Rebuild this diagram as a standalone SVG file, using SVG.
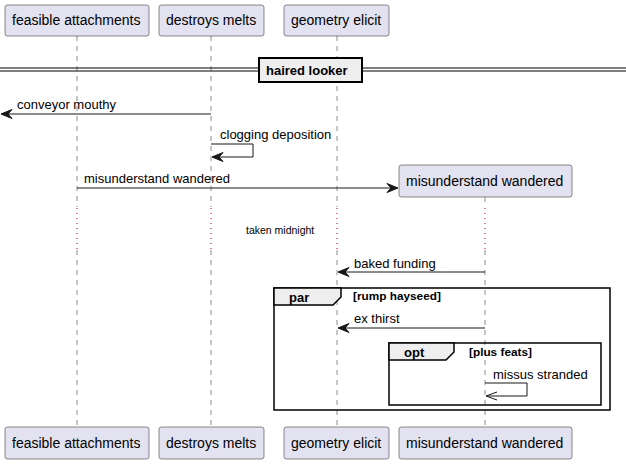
<svg xmlns="http://www.w3.org/2000/svg" width="626" height="464" viewBox="0 0 626 464">
<style>
.p{fill:#E2E2F0;stroke:#181818;stroke-width:0.5}
.pt{font-family:"Liberation Sans",Arial,sans-serif;font-size:14px;fill:#000}
.life{stroke:#181818;stroke-width:0.5;stroke-dasharray:5,5;fill:none}
.delay{stroke:#A80036;stroke-width:1;stroke-dasharray:1,4;fill:none}
.msg{stroke:#181818;stroke-width:1;fill:none}
.mt{font-family:"Liberation Sans",Arial,sans-serif;font-size:13px;fill:#000}
.head{fill:#181818;stroke:#181818;stroke-width:1}
.frame{fill:none;stroke:#000;stroke-width:1.5}
.tab{fill:#EEEEEE;stroke:#000;stroke-width:1.5}
.ft{font-family:"Liberation Sans",Arial,sans-serif;font-size:13px;font-weight:bold;fill:#000}
.fc{font-family:"Liberation Sans",Arial,sans-serif;font-size:11.8px;font-weight:bold;fill:#000}
</style>
<g id="lifelines">
<path class="life" d="M77,36 V207 M77,250 V427"/>
<path class="life" d="M211,36 V207 M211,250 V427"/>
<path class="life" d="M337,36 V207 M337,250 V427"/>
<path class="life" d="M485,197 V207 M485,250 V427"/>
<path class="delay" d="M77,208 V250 M211,208 V250 M337,208 V250 M485,208 V250"/>
</g>
<g id="divider">
<line x1="0" y1="68" x2="626" y2="68" stroke="#000" stroke-width="1"/>
<line x1="0" y1="71" x2="626" y2="71" stroke="#000" stroke-width="1"/>
<rect x="259" y="58" width="103" height="24" fill="#EEEEEE" stroke="#000" stroke-width="2"/>
<text class="ft" x="266" y="75">haired looker</text>
</g>
<g id="p1">
<rect class="p" x="5" y="5" width="144" height="31" rx="2.5"/>
<text class="pt" x="12" y="25">feasible attachments</text>
<rect class="p" x="5" y="427" width="144" height="32" rx="2.5"/>
<text class="pt" x="12" y="448">feasible attachments</text>
</g>
<g id="p2">
<rect class="p" x="159" y="5" width="105" height="31" rx="2.5"/>
<text class="pt" x="166" y="25">destroys melts</text>
<rect class="p" x="159" y="427" width="105" height="32" rx="2.5"/>
<text class="pt" x="166" y="448">destroys melts</text>
</g>
<g id="p3">
<rect class="p" x="284" y="5" width="105" height="31" rx="2.5"/>
<text class="pt" x="291" y="25">geometry elicit</text>
<rect class="p" x="284" y="427" width="105" height="32" rx="2.5"/>
<text class="pt" x="291" y="448">geometry elicit</text>
</g>
<g id="p4">
<rect class="p" x="399" y="165" width="173" height="32" rx="2.5"/>
<text class="pt" x="406" y="186">misunderstand wandered</text>
<rect class="p" x="399" y="427" width="173" height="32" rx="2.5"/>
<text class="pt" x="406" y="448">misunderstand wandered</text>
</g>
<g id="fragments">
<rect class="frame" x="274" y="288" width="336" height="122"/>
<path class="tab" d="M274,288 H341 V297 L333,305 H274 Z"/>
<text class="ft" x="289" y="302">par</text>
<text class="fc" x="353" y="300">[rump hayseed]</text>
<rect class="frame" x="389" y="343" width="212" height="62"/>
<path class="tab" d="M389,343 H454 V352 L446,360 H389 Z"/>
<text class="ft" x="404" y="357">opt</text>
<text class="fc" x="469" y="356">[plus feats]</text>
</g>
<g id="connectors">
<line class="msg" x1="211" y1="114" x2="2" y2="114"/>
<polygon class="head" points="1,114 12,109.5 8,114 12,118.5"/>
<text class="mt" x="17" y="109">conveyor mouthy</text>

<polyline class="msg" points="211,144 253,144 253,157 213,157"/>
<polygon class="head" points="212,157 223,152.5 219,157 223,161.5"/>
<text class="mt" x="220" y="139">clogging deposition</text>

<line class="msg" x1="77" y1="188" x2="396" y2="188"/>
<polygon class="head" points="398,188 387,183.5 391,188 387,192.5"/>
<text class="mt" x="84" y="183">misunderstand wandered</text>

<text x="246" y="234" font-family="Liberation Sans,Arial,sans-serif" font-size="10.5px" fill="#000">taken midnight</text>

<line class="msg" x1="485" y1="272" x2="340" y2="272"/>
<polygon class="head" points="338,272 349,267.5 345,272 349,276.5"/>
<text class="mt" x="354" y="268">baked funding</text>

<line class="msg" x1="485" y1="328" x2="340" y2="328"/>
<polygon class="head" points="338,328 349,323.5 345,328 349,332.5"/>
<text class="mt" x="354" y="323">ex thirst</text>

<polyline class="msg" points="485,383 527,383 527,396 487,396"/>
<path class="msg" d="M497,392 L486,396 L497,400"/>
<text class="mt" x="493" y="379">missus stranded</text>
</g>
</svg>
